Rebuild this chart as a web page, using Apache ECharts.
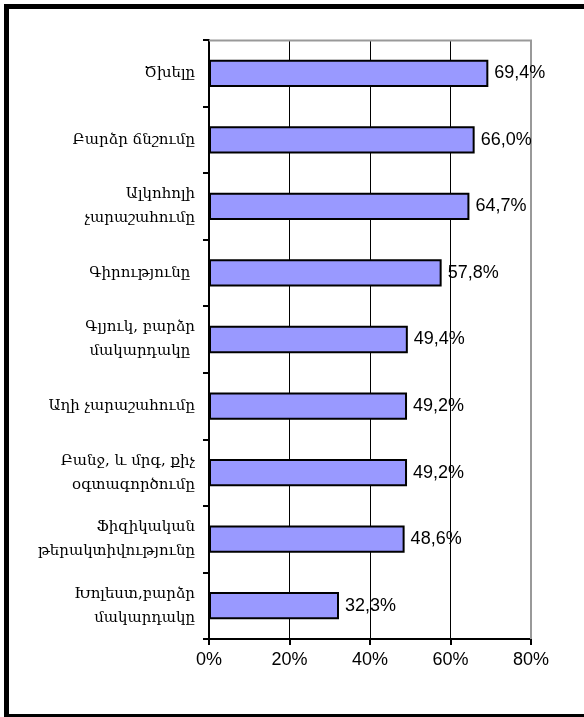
<!DOCTYPE html>
<html>
<head>
<meta charset="utf-8">
<script src="https://cdn.jsdelivr.net/npm/echarts@6/dist/echarts.min.js"></script>
<style>
  html, body { margin: 0; padding: 0; background: #fff; }
  #chart { width: 584px; height: 717px; }
</style>
</head>
<body>
<div id="chart"></div>
<script>
// risk factors, top to bottom
const categories = [
  'Ծխելը',
  'Բարձր ճնշումը',
  'Ալկոհոլի\nչարաշահումը',
  'Գիրությունը ',
  'Գլյուկ, բարձր\nմակարդակը ',
  'Աղի չարաշահումը',
  'Բանջ, և մրգ, քիչ\nօգտագործումը',
  'Ֆիզիկական\nթերակտիվությունը',
  'Խոլեստ,բարձր\nմակարդակը'
]
const values = [69.4, 66.0, 64.7, 57.8, 49.4, 49.2, 49.2, 48.6, 32.3]
const xTicks = [0, 20, 40, 60, 80]

const chart = echarts.init(document.getElementById('chart'))

const fmt = v => v.toFixed(1).replace('.', ',') + '%'

chart.setOption({
  animation: false,
  backgroundColor: '#fff',
  graphic: [{
    type: 'rect',
    shape: { x: 6.5, y: 6.5, width: 620, height: 710 },
    style: { fill: 'none', stroke: '#000', lineWidth: 5 },
    silent: true
  }, {
    // top and right edge of the plot area
    type: 'polyline',
    shape: { points: [[209, 40.5], [531, 40.5], [531, 639]] },
    style: { stroke: '#999', lineWidth: 2, fill: 'none' },
    silent: true,
    z: 1
  }],
  grid: { left: 209, right: 53, top: 40, bottom: 78 },
  xAxis: {
    type: 'value',
    min: xTicks[0],
    max: xTicks[xTicks.length - 1],
    interval: 20,
    axisLine: { show: true, lineStyle: { color: '#000', width: 2 } },
    axisTick: { show: true, length: 6, lineStyle: { color: '#000', width: 2 } },
    splitLine: { show: true, lineStyle: { color: '#000', width: 1 } },
    axisLabel: {
      formatter: '{value}%',
      color: '#000',
      fontFamily: 'Liberation Sans',
      fontSize: 18,
      margin: 12
    }
  },
  yAxis: {
    type: 'category',
    inverse: true,
    data: categories,
    axisLine: { show: true, lineStyle: { color: '#000', width: 2 } },
    axisTick: { show: true, length: 6, lineStyle: { color: '#000', width: 2 } },
    axisLabel: {
      color: '#000',
      fontFamily: 'DejaVu Serif',
      fontSize: 15,
      lineHeight: 24,
      margin: 14,
      align: 'right'
    }
  },
  series: [{
    type: 'bar',
    data: values,
    barCategoryGap: '59%',
    itemStyle: { color: '#9999ff', borderColor: '#000', borderWidth: 2 },
    label: {
      show: true,
      position: 'right',
      distance: 6,
      color: '#000',
      fontFamily: 'Liberation Sans',
      fontSize: 18,
      formatter: p => fmt(p.value)
    },
    z: 3
  }]
})
</script>
</body>
</html>
